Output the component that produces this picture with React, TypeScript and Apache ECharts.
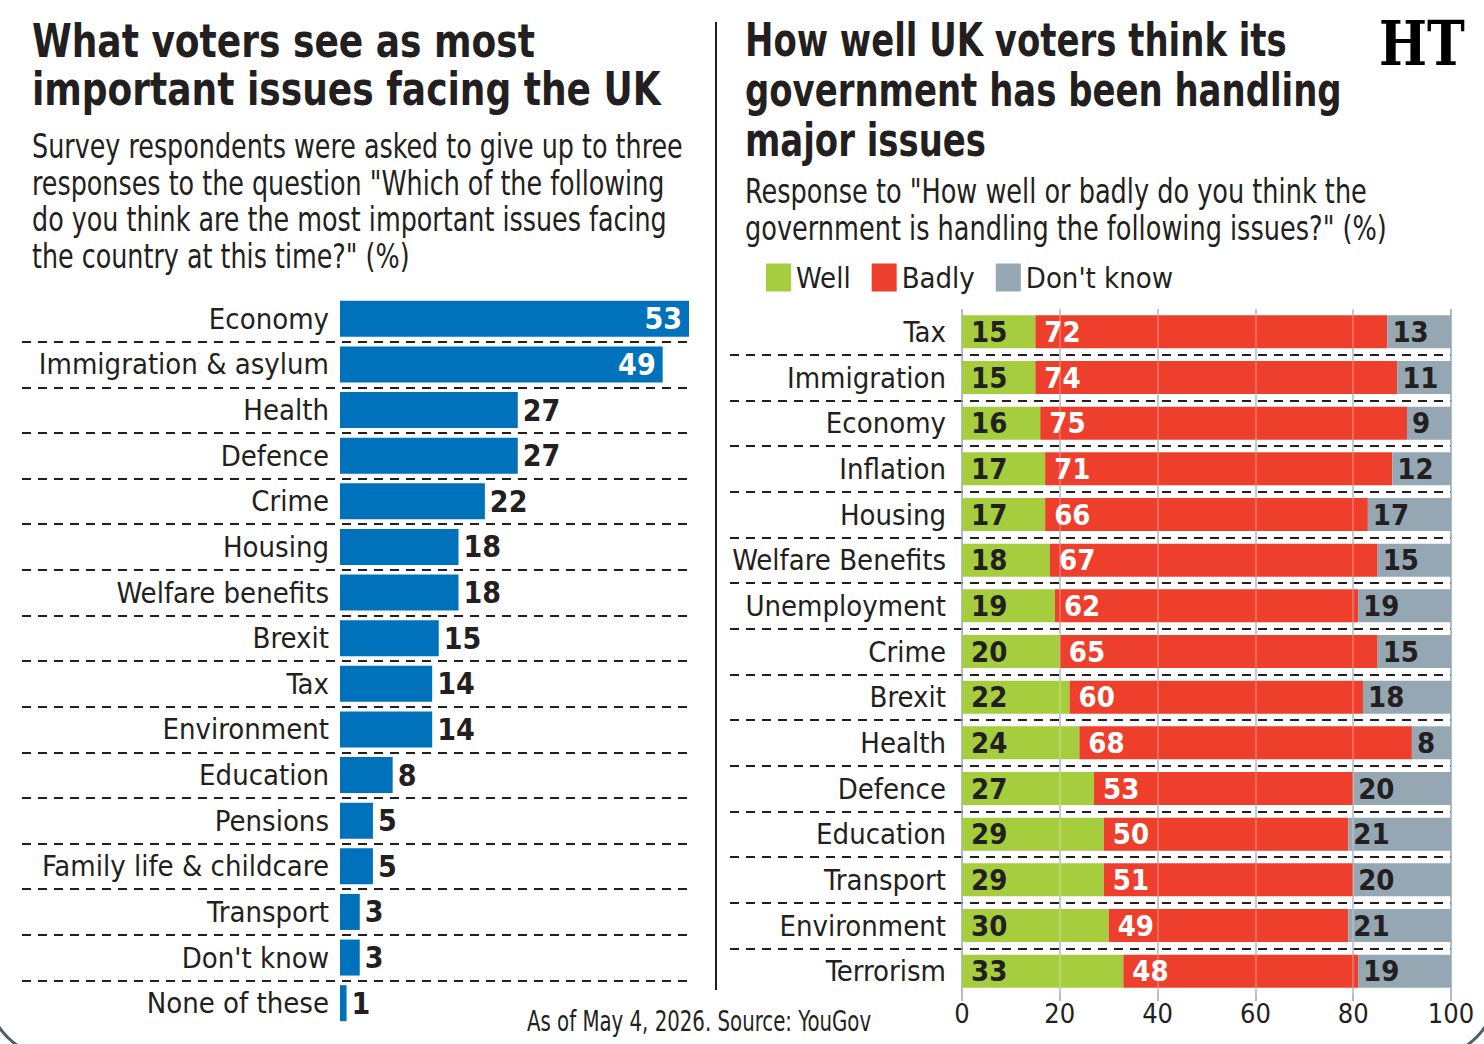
import React, { useEffect, useRef } from "react";
import * as echarts from "echarts";

const issueCategories = [
  "Economy", "Immigration & asylum", "Health", "Defence", "Crime", "Housing",
  "Welfare benefits", "Brexit", "Tax", "Environment", "Education", "Pensions",
  "Family life & childcare", "Transport", "Don't know", "None of these",
];
const issueValues = [53, 49, 27, 27, 22, 18, 18, 15, 14, 14, 8, 5, 5, 3, 3, 1];

const handlingCategories = [
  "Tax", "Immigration", "Economy", "Inflation", "Housing", "Welfare Benefits",
  "Unemployment", "Crime", "Brexit", "Health", "Defence", "Education",
  "Transport", "Environment", "Terrorism",
];
const wellValues = [15, 15, 16, 17, 17, 18, 19, 20, 22, 24, 27, 29, 29, 30, 33];
const badlyValues = [72, 74, 75, 71, 66, 67, 62, 65, 60, 68, 53, 50, 51, 49, 48];
const dontKnowValues = [13, 11, 9, 12, 17, 15, 19, 15, 18, 8, 20, 21, 20, 21, 19];
const gridTicks = [20, 40, 60, 80];

const FONT = '"DejaVu Sans Condensed", "Liberation Sans Narrow", "Noto Sans", sans-serif';
const INK = "#231f20";
const BLUE = "#0072bc";
const GREEN = "#a5cd3e";
const RED = "#ee3f2c";
const GREY = "#95a7b3";

export default function App() {
  const ref = useRef<HTMLDivElement>(null);
  useEffect(() => {
    document.body.style.margin = "0";
    const chart = echarts.init(ref.current!, undefined, { renderer: "svg" });
    const dashed = {
      show: true, showMinLine: false, showMaxLine: false,
      lineStyle: { color: INK, width: 2, type: [9, 7] },
    };
    const hiddenValue = (gi: number, extra: any = {}) => ({
      type: "value", gridIndex: gi, show: false, ...extra,
    });
    const option: any = {
      animation: false,
      backgroundColor: "#ffffff",
      textStyle: { fontFamily: FONT },
      grid: [
        { left: 340, top: 296, width: 349, height: 730 },
        { left: 22, top: 296, width: 667, height: 730 },
        { left: 962, top: 309, width: 489, height: 685 },
        { left: 730, top: 309, width: 721, height: 685 },
      ],
      xAxis: [
        hiddenValue(0, { min: 0, max: 53 }),
        hiddenValue(1, { min: 0, max: 1 }),
        {
          type: "value", gridIndex: 2, min: 0, max: 100, interval: 20,
          axisLine: { show: false },
          axisTick: { show: true, length: 7, lineStyle: { color: GREY, width: 1.5 } },
          axisLabel: { fontSize: 27, color: INK, margin: 6, fontFamily: FONT },
          splitLine: { show: true, lineStyle: { color: GREY, width: 1.5 } },
        },
        hiddenValue(3, { min: 0, max: 1 }),
      ],
      yAxis: [
        {
          type: "category", gridIndex: 0, data: issueCategories, inverse: true,
          axisLine: { show: false }, axisTick: { show: false },
          axisLabel: { fontSize: 29, color: INK, margin: 11, fontFamily: FONT },
        },
        {
          type: "category", gridIndex: 1, data: issueCategories, inverse: true,
          axisLine: { show: false }, axisTick: { show: false }, axisLabel: { show: false },
          splitLine: dashed,
        },
        {
          type: "category", gridIndex: 2, data: handlingCategories, inverse: true,
          axisLine: { show: false }, axisTick: { show: false },
          axisLabel: { fontSize: 29, color: INK, margin: 16, fontFamily: FONT },
        },
        {
          type: "category", gridIndex: 3, data: handlingCategories, inverse: true,
          axisLine: { show: false }, axisTick: { show: false }, axisLabel: { show: false },
          splitLine: dashed,
        },
      ],
      legend: {
        data: ["Well", "Badly", "Don't know"],
        left: 761, top: 258, icon: "rect", itemWidth: 25, itemHeight: 28, itemGap: 21,
        textStyle: { fontSize: 29, color: INK, fontFamily: FONT },
      },
      series: [
        {
          type: "bar", name: "Share", xAxisIndex: 0, yAxisIndex: 0, barWidth: 36,
          itemStyle: { color: BLUE },
          label: {
            show: true, position: "right", distance: 5, fontSize: 30, fontWeight: "bold",
            color: INK, fontFamily: FONT,
          },
          data: issueValues.map((v) =>
            v >= 40 ? { value: v, label: { position: "insideRight", color: "#ffffff", distance: 7 } } : v
          ),
        },
        {
          type: "bar", name: "Well", stack: "h", xAxisIndex: 2, yAxisIndex: 2, barWidth: 33,
          itemStyle: { color: GREEN },
          label: { show: true, position: "insideLeft", distance: 9, fontSize: 29, fontWeight: "bold", color: INK, fontFamily: FONT },
          data: wellValues,
        },
        {
          type: "bar", name: "Badly", stack: "h", xAxisIndex: 2, yAxisIndex: 2, barWidth: 33,
          itemStyle: { color: RED },
          label: { show: true, position: "insideLeft", distance: 9, fontSize: 29, fontWeight: "bold", color: "#ffffff", fontFamily: FONT },
          data: badlyValues,
        },
        {
          type: "bar", name: "Don't know", stack: "h", xAxisIndex: 2, yAxisIndex: 2, barWidth: 33,
          itemStyle: { color: GREY },
          label: { show: true, position: "insideLeft", distance: 5, fontSize: 29, fontWeight: "bold", color: INK, fontFamily: FONT },
          data: dontKnowValues,
          markLine: {
            silent: true, symbol: "none", label: { show: false },
            lineStyle: { color: "rgba(255,255,255,0.3)", type: "solid", width: 1.5 },
            data: gridTicks.map((t) => ({ xAxis: t })),
          },
        },
      ],
      graphic: [
        {
          type: "text", x: 32, y: 16, scaleX: 0.87,
          style: {
            text: "What voters see as most\nimportant issues facing the UK",
            fontSize: 46, fontWeight: "bold", fontFamily: FONT, lineHeight: 49, fill: INK,
          },
        },
        {
          type: "text", x: 32, y: 128, scaleX: 0.856,
          style: {
            text: "Survey respondents were asked to give up to three\nresponses to the question \"Which of the following\ndo you think are the most important issues facing\nthe country at this time?\" (%)",
            fontSize: 33, fontFamily: FONT, lineHeight: 36.5, fill: INK,
          },
        },
        {
          type: "text", x: 745, y: 15, scaleX: 0.82,
          style: {
            text: "How well UK voters think its\ngovernment has been handling\nmajor issues",
            fontSize: 46, fontWeight: "bold", fontFamily: FONT, lineHeight: 50, fill: INK,
          },
        },
        {
          type: "text", x: 745, y: 173, scaleX: 0.862,
          style: {
            text: "Response to \"How well or badly do you think the\ngovernment is handling the following issues?\" (%)",
            fontSize: 33, fontFamily: FONT, lineHeight: 36.5, fill: INK,
          },
        },
        {
          type: "text", x: 1379, y: 12, scaleX: 0.82,
          style: {
            text: "HT", fontSize: 62, fontWeight: "bold",
            fontFamily: '"DejaVu Serif", serif', fill: "#000000",
          },
        },
        {
          type: "line", shape: { x1: 716, y1: 22, x2: 716, y2: 990 },
          style: { stroke: INK, lineWidth: 2 },
        },
        {
          type: "text", x: 527, y: 1008, scaleX: 0.785,
          style: { text: "As of May 4, 2026. Source: YouGov", fontSize: 28, fontFamily: FONT, fill: INK },
        },
        {
          type: "arc", shape: { cx: 60, cy: 985, r: 74, startAngle: (120 * Math.PI) / 180, endAngle: (155 * Math.PI) / 180 },
          style: { stroke: "#4d5f6b", lineWidth: 3, fill: "none" },
        },
        {
          type: "arc", shape: { cx: 1424, cy: 985, r: 74, startAngle: (25 * Math.PI) / 180, endAngle: (60 * Math.PI) / 180 },
          style: { stroke: "#4d5f6b", lineWidth: 3, fill: "none" },
        },
      ],
    };
    chart.setOption(option);
    return () => chart.dispose();
  }, []);
  return <div ref={ref} style={{ width: 1484, height: 1044 }} />;
}
